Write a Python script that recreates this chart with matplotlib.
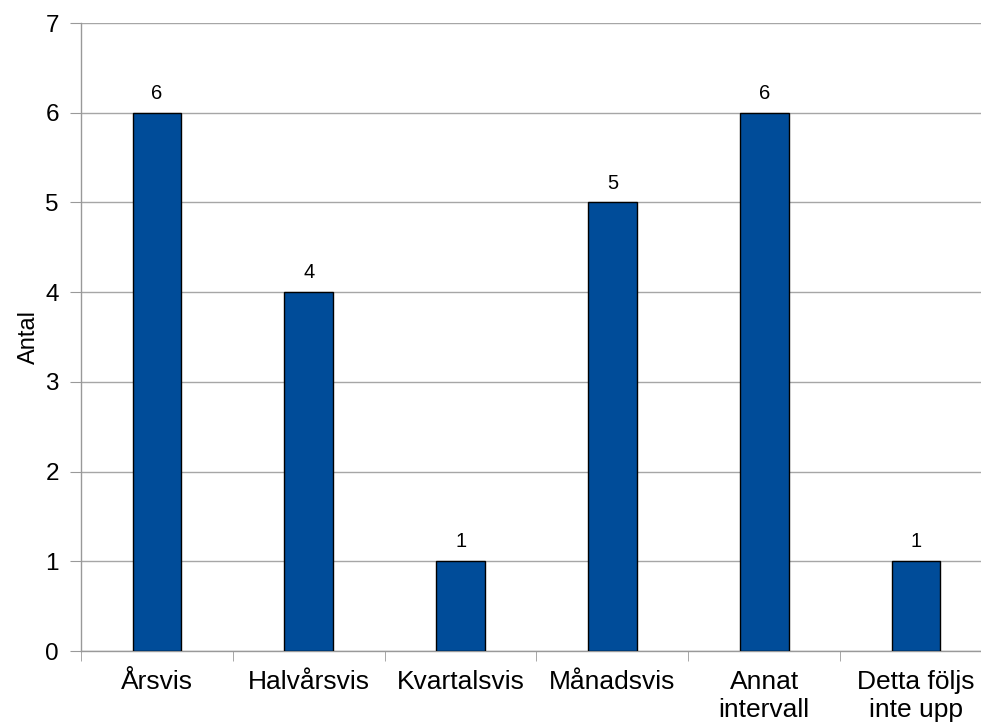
import matplotlib
matplotlib.use("Agg")
import matplotlib.pyplot as plt
import numpy as np

categories = ["Årsvis", "Halvårsvis", "Kvartalsvis", "Månadsvis",
              "Annat\nintervall", "Detta följs\ninte upp"]
counts = [6, 4, 1, 5, 6, 1]
y_ticks = [0, 1, 2, 3, 4, 5, 6, 7]

plt.rcParams["font.family"] = ["Liberation Sans", "DejaVu Sans"]

fig = plt.figure(figsize=(9.81, 7.26), dpi=100)
# plot area runs past the right edge of the canvas
ax = fig.add_axes([81 / 981, 75 / 726, 911 / 981, 628 / 726])

x = np.arange(len(categories))
bars = ax.bar(x, counts, width=0.32, color="#004C99", edgecolor="black",
              linewidth=1.0, zorder=3)
for bar, val in zip(bars, counts):
    ax.text(bar.get_x() + bar.get_width() / 2, val + 0.11, f"{val}",
            ha="center", va="bottom", fontsize=14.5)

ax.set_xlim(-0.5, len(categories) - 0.5)
ax.set_ylim(0, 7)
ax.set_yticks(y_ticks)
ax.tick_params(axis="y", labelsize=17.5, length=8, color="#999999", pad=8)
ax.yaxis.grid(True, color="#A6A6A6", linewidth=1.0, zorder=0)

ax.set_xticks(x)
ax.set_xticklabels(categories, fontsize=19, linespacing=1.2)
ax.set_xticks(np.arange(len(categories) + 1) - 0.5, minor=True)
ax.tick_params(axis="x", which="major", length=0, pad=14)
ax.tick_params(axis="x", which="minor", length=7, color="#999999")

ax.set_ylabel("Antal", fontsize=17, labelpad=4)

for side in ["top", "right"]:
    ax.spines[side].set_visible(False)
for side in ["left", "bottom"]:
    ax.spines[side].set_color("#999999")
    ax.spines[side].set_linewidth(1.0)

fig.savefig("out.png", dpi=100)
